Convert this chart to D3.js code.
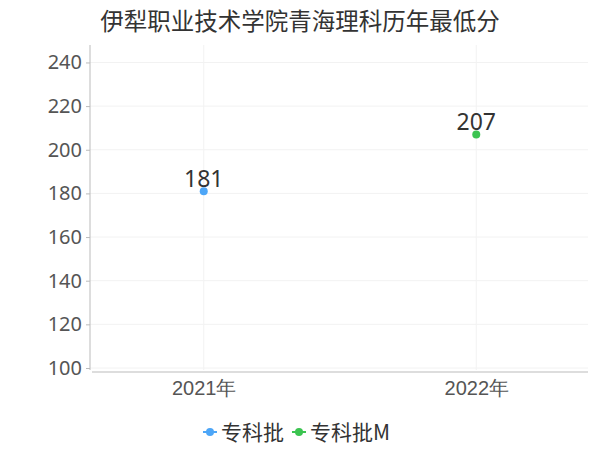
<!DOCTYPE html>
<html>
<head>
<meta charset="utf-8">
<script src="https://cdn.jsdelivr.net/npm/d3@7"></script>
<style>
  body { margin: 0; background: #fff; }
  svg { font-family: "Noto Sans CJK SC", "Noto Sans", sans-serif; }
</style>
</head>
<body>
<svg id="chart" width="600" height="450"></svg>
<script>
// data
var years = ["2021年", "2022年"];
var seriesNames = ["专科批", "专科批M"];
var seriesColors = ["#4da6f7", "#3cc451"];
var seriesYears = ["2021年", "2022年"];
var seriesValues = [181, 207];
var yTicks = [100, 120, 140, 160, 180, 200, 220, 240];

var svg = d3.select("#chart");
var margin = {left: 90, right: 12, top: 45, bottom: 80};
var width = 600, height = 450;

var x = d3.scalePoint()
    .domain(years)
    .range([margin.left + 2, width - margin.right])
    .padding(0.41);

var y = d3.scaleLinear()
    .domain([100, 248])
    .range([height - margin.bottom - 2, margin.top]);

// grid
svg.append("g")
    .selectAll("line.h")
    .data(yTicks)
    .enter().append("line")
    .attr("x1", margin.left)
    .attr("x2", width - margin.right)
    .attr("y1", d => y(d))
    .attr("y2", d => y(d))
    .attr("stroke", "#f2f2f2");

svg.append("g")
    .selectAll("line.v")
    .data(years)
    .enter().append("line")
    .attr("x1", d => x(d))
    .attr("x2", d => x(d))
    .attr("y1", margin.top)
    .attr("y2", height - margin.bottom)
    .attr("stroke", "#f2f2f2");

// y axis
var yAxis = svg.append("g")
    .attr("transform", "translate(" + margin.left + ",0)")
    .call(d3.axisLeft(y).tickValues(yTicks).tickSize(4).tickPadding(4));
yAxis.select(".domain").attr("stroke", "#bbb").attr("d", "M0," + margin.top + "V" + (height - margin.bottom));
yAxis.selectAll(".tick line").attr("stroke", "#bbb");
yAxis.selectAll(".tick text").attr("fill", "#555").attr("font-size", 20).attr("font-family", "Noto Sans, sans-serif");

// x axis
var xAxis = svg.append("g")
    .attr("transform", "translate(0," + (height - margin.bottom + 2) + ")")
    .call(d3.axisBottom(x).tickSize(0).tickPadding(9));
xAxis.select(".domain").attr("stroke", "#bbb").attr("d", "M" + (margin.left + 2) + ",0H" + (width - margin.right));
xAxis.selectAll(".tick text").attr("fill", "#555").attr("font-size", 20);

// points
var pts = seriesValues.map((v, i) => ({name: seriesNames[i], year: seriesYears[i], value: v, color: seriesColors[i]}));
svg.append("g").selectAll("circle")
    .data(pts)
    .enter().append("circle")
    .attr("cx", d => x(d.year))
    .attr("cy", d => y(d.value))
    .attr("r", 4)
    .attr("fill", d => d.color);

svg.append("g").selectAll("text")
    .data(pts)
    .enter().append("text")
    .attr("x", d => x(d.year))
    .attr("y", d => y(d.value) - 4)
    .attr("text-anchor", "middle")
    .attr("font-size", 23)
    .attr("font-family", "Noto Sans, sans-serif")
    .attr("fill", "#333")
    .text(d => d.value);

// title
svg.append("text")
    .attr("x", 300)
    .attr("y", 30)
    .attr("text-anchor", "middle")
    .attr("font-size", 23.5)
    .attr("fill", "#333")
    .text("伊犁职业技术学院青海理科历年最低分");

// legend
var legend = svg.append("g").attr("transform", "translate(203,432)");
var lx = 0;
seriesNames.forEach(function (name, i) {
  var g = legend.append("g").attr("transform", "translate(" + lx + ",0)");
  g.append("line").attr("x1", 0).attr("x2", 14).attr("y1", 0).attr("y2", 0)
    .attr("stroke", seriesColors[i]).attr("stroke-width", 2);
  g.append("circle").attr("cx", 7).attr("cy", 0).attr("r", 4).attr("fill", seriesColors[i]);
  var t = g.append("text").attr("x", 18).attr("y", 8).attr("font-size", 21).attr("fill", "#333").text(name);
  lx += 18 + t.node().getComputedTextLength() + 8;
});
</script>
</body>
</html>
